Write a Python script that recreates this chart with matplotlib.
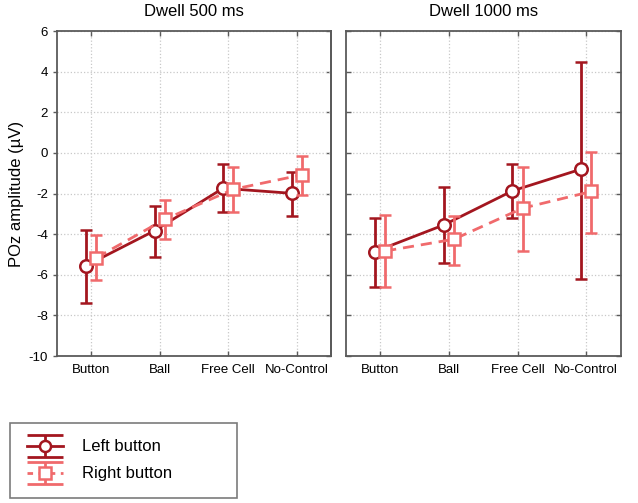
import numpy as np
import matplotlib
matplotlib.use("Agg")
import matplotlib.pyplot as plt
from matplotlib.path import Path
from matplotlib.lines import Line2D
from matplotlib.legend_handler import HandlerTuple

plt.rcParams['font.family'] = ['Liberation Sans', 'DejaVu Sans']
plt.rcParams['axes.unicode_minus'] = False

categories = ['Button', 'Ball', 'Free Cell', 'No-Control']
panel_titles = ['Dwell 500 ms', 'Dwell 1000 ms']
series_names = ['Left button', 'Right button']

# Dwell 500 ms
left_500 = [-5.55, -3.83, -1.74, -1.99]
left_500_hi = [-3.79, -2.60, -0.56, -0.95]
left_500_lo = [-7.37, -5.14, -2.89, -3.10]
right_500 = [-5.16, -3.27, -1.79, -1.08]
right_500_hi = [-4.04, -2.32, -0.70, -0.13]
right_500_lo = [-6.26, -4.24, -2.92, -2.07]

# Dwell 1000 ms
left_1000 = [-4.86, -3.55, -1.87, -0.80]
left_1000_hi = [-3.19, -1.66, -0.56, 4.50]
left_1000_lo = [-6.59, -5.40, -3.19, -6.21]
right_1000 = [-4.83, -4.25, -2.72, -1.90]
right_1000_hi = [-3.05, -3.10, -0.67, 0.06]
right_1000_lo = [-6.59, -5.52, -4.81, -3.93]

dark = '#a3161f'
light = '#f06a6c'
spine_col = '#5a5a5a'

fig = plt.figure(figsize=(6.38, 5.03), dpi=100)
ax1 = fig.add_axes([0.0893, 0.2922, 0.4295, 0.6461])
ax2 = fig.add_axes([0.5418, 0.2922, 0.4310, 0.6461])

panels = [
    (ax1, left_500, left_500_hi, left_500_lo, right_500, right_500_hi, right_500_lo),
    (ax2, left_1000, left_1000_hi, left_1000_lo, right_1000, right_1000_hi, right_1000_lo),
]

x = np.arange(len(categories))
off = 0.075

for i, (ax, lm, lh, ll, rm, rh, rl) in enumerate(panels):
    lm, lh, ll = np.array(lm), np.array(lh), np.array(ll)
    rm, rh, rl = np.array(rm), np.array(rh), np.array(rl)
    ax.errorbar(x - off, lm, yerr=[lm - ll, lh - lm], color=dark, lw=2,
                marker='o', ms=9, mfc='white', mec=dark, mew=1.8,
                capsize=4, capthick=2, elinewidth=2, zorder=3)
    ax.errorbar(x + off, rm, yerr=[rm - rl, rh - rm], color=light, lw=2,
                ls=(0, (4, 2.5)), marker='s', ms=9, mfc='white', mec=light,
                mew=1.8, capsize=4, capthick=2, elinewidth=2, zorder=4)

    ax.set_xlim(-0.5, 3.5)
    ax.set_ylim(-10, 6)
    ax.set_xticks(x)
    ax.set_xticklabels(categories)
    ax.set_yticks(np.arange(-10, 7, 2))
    ax.grid(True, color='#c8c8c8', ls=':', lw=0.9)
    ax.set_axisbelow(True)
    for s in ax.spines.values():
        s.set_color(spine_col)
        s.set_linewidth(1.3)
    ax.tick_params(axis='x', direction='in', top=True, length=3.5, width=1,
                   color=spine_col, labelsize=9.5, pad=6)
    ax.set_title(panel_titles[i], fontsize=12, pad=11)

    if i == 0:
        ax.tick_params(axis='y', direction='out', length=3, width=1,
                       color=spine_col, labelsize=9.5, pad=3.5)
        ax.set_ylabel('POz amplitude (µV)', fontsize=12, labelpad=3)
        sec = ax.secondary_yaxis('right')
        sec.set_yticks(np.arange(-10, 7, 2))
        sec.tick_params(direction='in', length=3.5, width=1, color=spine_col,
                        labelright=False)
        sec.spines['right'].set_color(spine_col)
        sec.spines['right'].set_linewidth(1.3)
    else:
        ax.tick_params(axis='y', direction='in', left=True, right=True,
                       length=3.5, width=1, color=spine_col, labelleft=False)

# legend handles: cap lines drawn as a custom marker
cap_path = Path([(-1, 0.6), (1, 0.6), (-1, -0.6), (1, -0.6), (0, 0.6), (0, -0.6)],
                [Path.MOVETO, Path.LINETO, Path.MOVETO, Path.LINETO, Path.MOVETO, Path.LINETO])
handles = []
for col, mk, ls in [(dark, 'o', '-'), (light, 's', (0, (2, 2)))]:
    caps = Line2D([], [], ls='none', marker=cap_path, ms=26, mec=col, mew=2)
    main = Line2D([], [], color=col, lw=2, ls=ls, marker=mk, ms=8,
                  mfc='white', mec=col, mew=1.8)
    handles.append((caps, main))

leg = fig.legend(handles, series_names, handler_map={tuple: HandlerTuple(ndivide=1)},
                 loc='lower left', bbox_to_anchor=(0.0157, 0.0099, 0.356, 0.15),
                 mode='expand', fontsize=12, frameon=True, fancybox=False,
                 edgecolor=spine_col, borderpad=1.0, labelspacing=0.72,
                 handlelength=2.2, handletextpad=1.1, borderaxespad=0)
leg.get_frame().set_linewidth(1.2)

fig.savefig('out.png', dpi=100)
